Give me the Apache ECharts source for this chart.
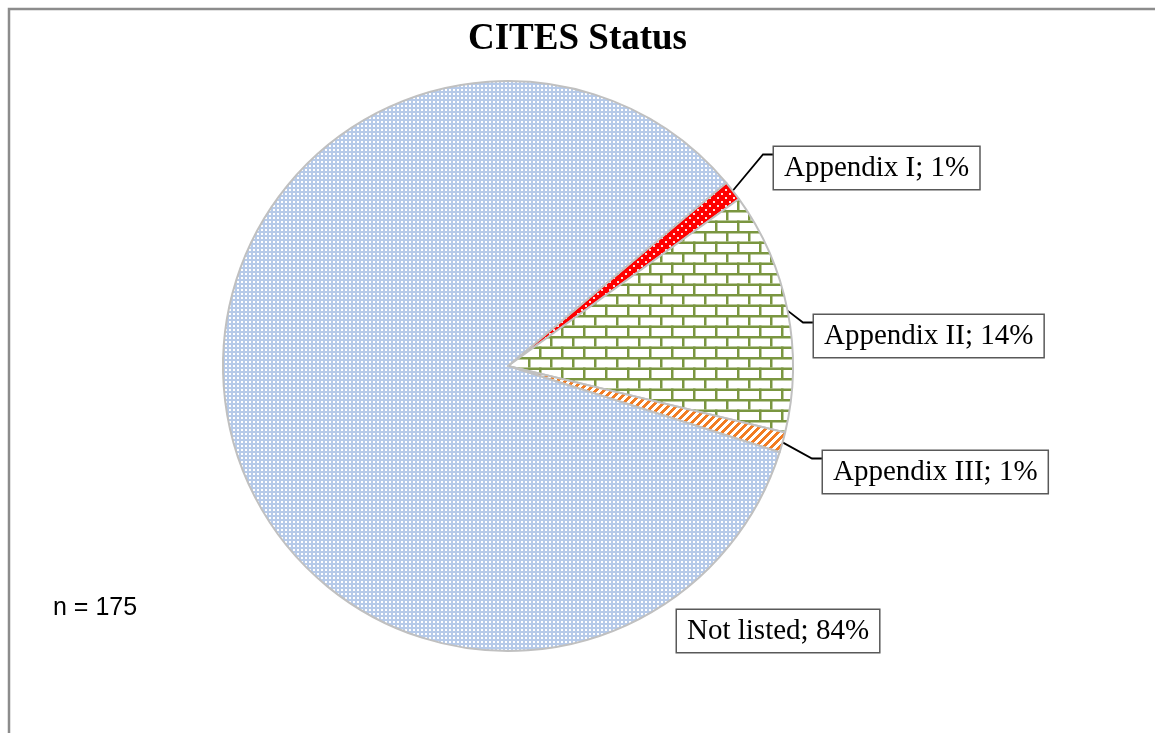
<!DOCTYPE html>
<html>
<head>
<meta charset="utf-8">
<script src="https://cdn.jsdelivr.net/npm/echarts@6/dist/echarts.min.js"></script>
<style>
  html, body { margin: 0; padding: 0; background: #fff; }
  #chart { width: 1155px; height: 733px; }
</style>
</head>
<body>
<div id="chart"></div>
<script>
// data (n = 175 species)
const categories = ['Appendix I', 'Appendix II', 'Appendix III', 'Not listed']
const counts = [2, 24, 2, 147]
const sampleSize = 175

// label boxes: [left, centerY]
const labelPos = [[774, 168], [814, 336], [823, 472], [677, 631]]

function makeTile(w, h, draw) {
  const c = document.createElement('canvas')
  c.width = w
  c.height = h
  draw(c.getContext('2d'))
  return { image: c, repeat: 'repeat' }
}

// small checker: not listed
const dotsBlue = makeTile(4, 4, ctx => {
  ctx.fillStyle = '#b6cae9'
  ctx.fillRect(0, 0, 4, 4)
  ctx.fillStyle = '#ffffff'
  ctx.fillRect(1, 1, 2, 2)
})

// red with white dots: appendix I
const dotsRed = makeTile(8, 8, ctx => {
  ctx.fillStyle = '#ff0000'
  ctx.fillRect(0, 0, 8, 8)
  ctx.fillStyle = '#ffe0e0'
  ctx.fillRect(1, 1, 2, 2)
  ctx.fillRect(5, 5, 2, 2)
})

// green bricks: appendix II
const bricks = makeTile(22, 21, ctx => {
  ctx.fillStyle = '#ffffff'
  ctx.fillRect(0, 0, 22, 21)
  ctx.fillStyle = '#7a9640'
  ctx.fillRect(0, 0, 22, 2.5)
  ctx.fillRect(0, 10.5, 22, 2.5)
  ctx.fillRect(0, 0, 2.5, 10.5)
  ctx.fillRect(11, 10.5, 2.5, 10.5)
})

// orange diagonal stripes: appendix III
const stripes = makeTile(8, 8, ctx => {
  ctx.fillStyle = '#ffffff'
  ctx.fillRect(0, 0, 8, 8)
  ctx.fillStyle = '#f27c22'
  for (let x = 0; x < 8; x++) {
    for (let y = 0; y < 8; y++) {
      if ((x + y) % 8 < 4) ctx.fillRect(x, y, 1, 1)
    }
  }
})

const fills = [dotsRed, bricks, stripes, dotsBlue]

const chart = echarts.init(document.getElementById('chart'))

chart.setOption({
  animation: false,
  title: {
    text: 'CITES Status',
    left: 'center',
    top: 16,
    textStyle: { fontFamily: 'Liberation Serif', fontWeight: 'bold', fontSize: 37, color: '#000' }
  },
  graphic: [
    {
      type: 'rect',
      shape: { x: 9, y: 9, width: 1300, height: 900 },
      style: { fill: 'none', stroke: '#8c8c8c', lineWidth: 2.5 },
      silent: true
    },
    {
      type: 'text',
      left: 53,
      top: 596,
      style: { text: 'n = ' + sampleSize, font: '25px "Liberation Sans"', fill: '#000' }
    }
  ],
  series: [{
    type: 'pie',
    center: [508, 366],
    radius: 285,
    startAngle: 40,
    clockwise: true,
    percentPrecision: 0,
    itemStyle: { borderColor: '#c0c0c0', borderWidth: 2 },
    label: {
      show: true,
      position: 'outside',
      formatter: '{b}; {d}%',
      overflow: 'none',
      fontFamily: 'Liberation Serif',
      fontSize: 29,
      lineHeight: 32,
      color: '#000',
      backgroundColor: '#fff',
      borderColor: '#595959',
      borderWidth: 1.5,
      padding: [5, 10, 5, 10]
    },
    labelLine: { show: true, length: 30, length2: 12, lineStyle: { color: '#000', width: 1.8 } },
    labelLayout: params => {
      const p = labelPos[params.dataIndex]
      const h = params.labelRect.height
      const out = { x: p[0], y: p[1], align: 'left', verticalAlign: 'middle' }
      const pts = params.labelLinePoints
      if (pts && pts.length) {
        const top = p[1] - h / 2
        out.labelLinePoints = [pts[0], [p[0] - 11, top + 9], [p[0], top + 9]]
      }
      return out
    },
    data: categories.map((name, i) => {
      const item = {
        name: name,
        value: counts[i],
        itemStyle: { color: fills[i] }
      }
      if (i === 3) {
        // sits on the slice edge, no leader line
        item.label = { position: 'inside' }
        item.labelLine = { show: false }
      }
      return item
    })
  }]
})
</script>
</body>
</html>
